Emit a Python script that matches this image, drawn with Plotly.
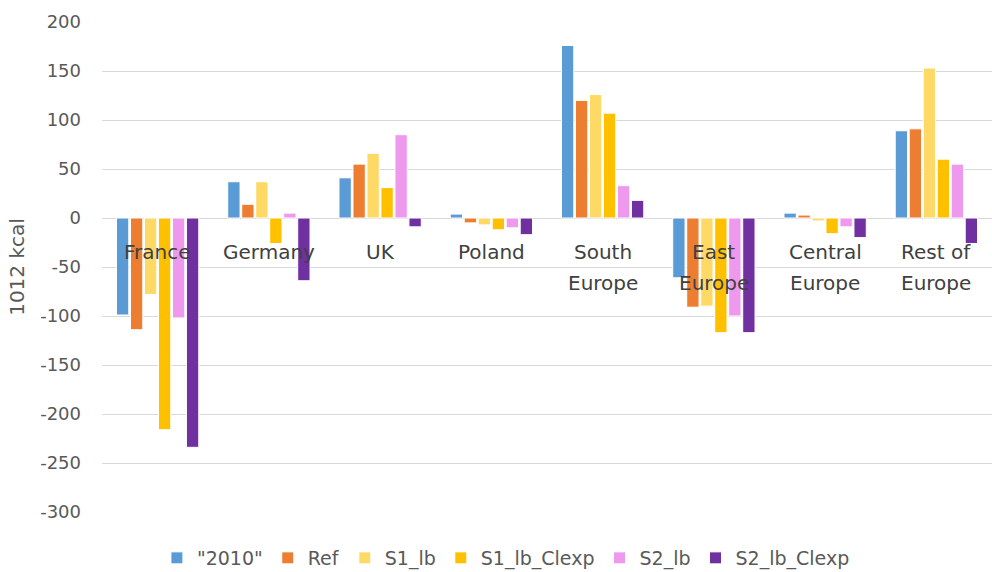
import plotly.graph_objects as go

# Regions and change per scenario (10^12 kcal)
regions = ["France", "Germany", "UK", "Poland", "South Europe",
           "East Europe", "Central Europe", "Rest of Europe"]

s2010 = [-99, 37, 41, 4, 176, -61, 5, 89]
ref = [-114, 14, 55, -5, 120, -91, 3, 91]
s1_lb = [-78, 37, 66, -7, 126, -90, -3, 153]
s1_lb_clexp = [-216, -26, 31, -12, 107, -117, -16, 60]
s2_lb = [-102, 5, 85, -10, 33, -100, -9, 55]
s2_lb_clexp = [-234, -64, -9, -17, 18, -117, -20, -26]

series = [
    ('"2010"', s2010, "#5B9BD5"),
    ("Ref", ref, "#ED7D31"),
    ("S1_lb", s1_lb, "#FFD966"),
    ("S1_lb_Clexp", s1_lb_clexp, "#FFC000"),
    ("S2_lb", s2_lb, "#EE99EE"),
    ("S2_lb_Clexp", s2_lb_clexp, "#7030A0"),
]

yticks = [200, 150, 100, 50, 0, -50, -100, -150, -200, -250, -300]
ytick_text = ["200", "150", "100", "50", "0", "-50", "-100", "-150",
              "-200", "-250", "-300"]

FONT = "DejaVu Sans, sans-serif"

fig = go.Figure()
for name, vals, color in series:
    fig.add_trace(go.Bar(
        x=regions, y=vals, name=name,
        marker=dict(color=color, line=dict(color="white", width=1)),
    ))

# Category labels sit just under the zero line, Excel style
annotations = []
for r in regions:
    parts = r.rsplit(" ", 1) if " " in r else [r]
    for i, line in enumerate(parts):
        annotations.append(dict(
            x=r, y=0, xref="x", yref="y", text=line, showarrow=False,
            yshift=-34 - 31 * i, yanchor="middle",
            font=dict(family=FONT, size=20, color="#404040"),
        ))

fig.update_layout(
    width=992, height=572,
    margin=dict(l=102, r=0, t=22, b=60),
    paper_bgcolor="white", plot_bgcolor="white",
    barmode="group", bargap=0.245, bargroupgap=0.12,
    font=dict(family=FONT, color="#595959"),
    xaxis=dict(showticklabels=False, showgrid=False, showline=False,
               ticks="", zeroline=False),
    yaxis=dict(range=[-300, 200], tickvals=yticks, ticktext=ytick_text,
               showgrid=True, gridcolor="#D9D9D9", gridwidth=1,
               zeroline=True, zerolinecolor="#D9D9D9", zerolinewidth=1,
               tickfont=dict(size=18, color="#595959"),
               ticklabelstandoff=20,
               title=dict(text="1012 kcal", font=dict(size=20, color="#595959"),
                          standoff=10)),
    legend=dict(orientation="h", x=0.51, xanchor="center",
                xref="container", yref="container",
                y=14 / 572, yanchor="middle",
                font=dict(size=19, color="#595959"),
                itemwidth=30, tracegroupgap=0),
    annotations=annotations,
)

fig.write_html("out.html")
